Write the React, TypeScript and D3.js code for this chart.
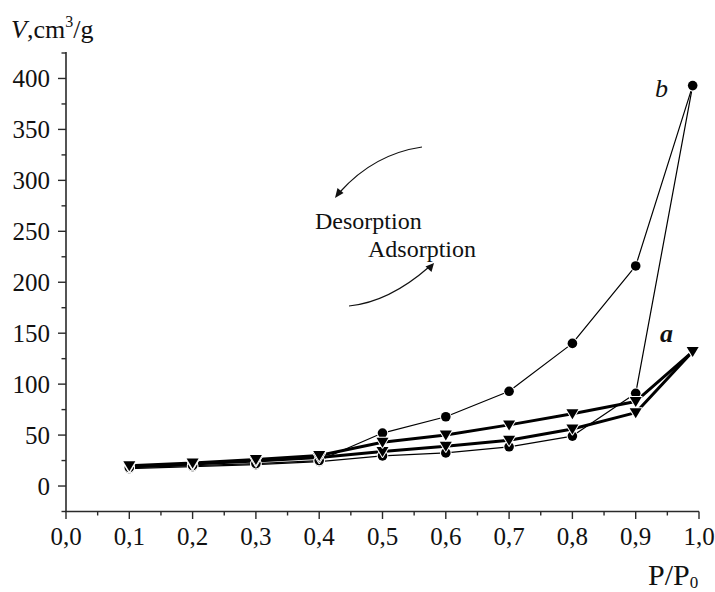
import React from "react";
import * as d3 from "d3";

const pressures = [0.1, 0.2, 0.3, 0.4, 0.5, 0.6, 0.7, 0.8, 0.9, 0.99];
const aAdsorption = [19, 21.5, 24.5, 28, 34, 39, 45, 56, 72, 132];
const aDesorption = [20, 22.5, 26, 30, 43, 50, 60, 71, 83, 132];
const bAdsorption = [17, 19, 21, 24, 29.5, 32.5, 38.5, 49, 91, 393];
const bDesorption = [18, 20, 22, 25, 52, 68, 93, 140, 216, 393];

const xMajorTicks = [0, 0.1, 0.2, 0.3, 0.4, 0.5, 0.6, 0.7, 0.8, 0.9, 1.0];
const xTickLabels = ["0,0", "0,1", "0,2", "0,3", "0,4", "0,5", "0,6", "0,7", "0,8", "0,9", "1,0"];
const yMajorTicks = [0, 50, 100, 150, 200, 250, 300, 350, 400];

const W = 715;
const H = 592;
const FONT = '"Liberation Serif", "DejaVu Serif", serif';

export default function App() {
  const x = d3.scaleLinear().domain([0, 1]).range([66, 699]);
  const y = d3.scaleLinear().domain([-25, 425]).range([511.5, 53]);

  const xMinor = d3.range(0, 1.0001, 0.05);
  const yMinor = d3.range(-25, 425.001, 25);

  const line = d3
    .line<number>()
    .x((_, i) => x(pressures[i]))
    .y((d) => y(d));

  const series = [
    { data: bAdsorption, width: 1.2, marker: "circle" },
    { data: bDesorption, width: 1.2, marker: "circle" },
    { data: aAdsorption, width: 3, marker: "tri" },
    { data: aDesorption, width: 3, marker: "tri" },
  ];

  const tri = (cx: number, cy: number) => {
    const s = 6;
    return `M${cx - s},${cy - 4.5}L${cx + s},${cy - 4.5}L${cx},${cy + 5.5}Z`;
  };

  const axisColor = "#2a2a2a";
  const txt = { fontFamily: FONT } as React.CSSProperties;

  return (
    <svg
      width={W}
      height={H}
      style={{ position: "absolute", left: 0, top: 0, background: "#fff", fontFamily: FONT }}
    >
      <rect width={W} height={H} fill="#fff" />
      {/* Axes */}
      <line x1={x(0)} x2={x(0)} y1={y(425) - 1} y2={y(-25)} stroke={axisColor} strokeWidth={1.6} />
      <line x1={x(0) - 0.8} x2={x(1)} y1={y(-25)} y2={y(-25)} stroke={axisColor} strokeWidth={1.6} />
      {yMinor.map((v) => {
        const major = v % 50 === 0;
        return (
          <line
            key={"ym" + v}
            x1={x(0) - (major ? 8 : 4.5)}
            x2={x(0)}
            y1={y(v)}
            y2={y(v)}
            stroke={axisColor}
            strokeWidth={1.4}
          />
        );
      })}
      {xMinor.map((v, i) => {
        const major = i % 2 === 0;
        return (
          <line
            key={"xm" + i}
            x1={x(v)}
            x2={x(v)}
            y1={y(-25)}
            y2={y(-25) + (major ? 7.5 : 4)}
            stroke={axisColor}
            strokeWidth={1.4}
          />
        );
      })}
      {yMajorTicks.map((v) => (
        <text key={"yl" + v} style={txt} x={50} y={y(v)} dy="0.34em" textAnchor="end" fontSize={25} fill="#111">
          {v}
        </text>
      ))}
      {xMajorTicks.map((v, i) => (
        <text key={"xl" + i} style={txt} x={x(v)} y={545} textAnchor="middle" fontSize={25} fill="#111">
          {xTickLabels[i]}
        </text>
      ))}
      {/* Axis titles */}
      <text style={txt} x={11} y={38} fontSize={26} fill="#111">
        <tspan fontStyle="italic">V</tspan>
        <tspan>,cm</tspan>
        <tspan fontSize={16} dy={-11}>3</tspan>
        <tspan dy={11}>/g</tspan>
      </text>
      <text style={txt} x={648} y={585} fontSize={30} fill="#111">
        <tspan>P/P</tspan>
        <tspan fontSize={17} dy={3}>0</tspan>
      </text>

      {/* Lines */}
      {series.map((s, i) => (
        <path key={"l" + i} d={line(s.data) || ""} fill="none" stroke="#000" strokeWidth={s.width} strokeLinejoin="round" />
      ))}
      {/* Markers */}
      {series.map((s, i) =>
        s.data.map((v, j) =>
          s.marker === "circle" ? (
            <circle
              key={`m${i}-${j}`}
              cx={x(pressures[j])}
              cy={y(v)}
              r={4.8}
              fill="#000"
              stroke="#fff"
              strokeWidth={2}
              paintOrder="stroke"
            />
          ) : (
            <path
              key={`m${i}-${j}`}
              d={tri(x(pressures[j]), y(v))}
              fill="#000"
              stroke="#fff"
              strokeWidth={2}
              paintOrder="stroke"
              strokeLinejoin="round"
            />
          )
        )
      )}

      {/* Labels */}
      <text style={txt} x={655} y={97} fontSize={26} fontStyle="italic" fill="#111">b</text>
      <text style={txt} x={660} y={342} fontSize={26} fontStyle="italic" fontWeight="bold" fill="#111">a</text>
      <text style={txt} x={315} y={229} fontSize={24} fill="#111">Desorption</text>
      <text style={txt} x={368} y={257} fontSize={24} fill="#111">Adsorption</text>

      {/* Arrows */}
      <path d="M422,147 Q374,154 340,192" fill="none" stroke="#111" strokeWidth={1.2} />
      <path d="M335,198 L337.5,188 L343.5,193 Z" fill="#111" />
      <path d="M349,306 Q389,302 429,267" fill="none" stroke="#111" strokeWidth={1.2} />
      <path d="M434,263 L431.5,272 L425.5,266.5 Z" fill="#111" />
    </svg>
  );
}
